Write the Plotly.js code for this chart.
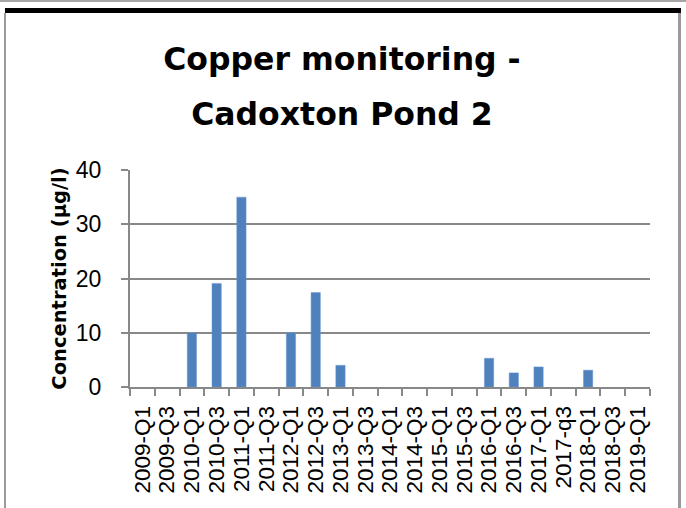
<!DOCTYPE html>
<html>
<head>
<meta charset="utf-8">
<script src="https://cdn.plot.ly/plotly-3.0.1.min.js"></script>
<style>
  html, body { margin: 0; padding: 0; background: #ffffff; }
  #wrap { position: relative; width: 686px; height: 508px; overflow: hidden; }
  #chart { position: absolute; left: 0; top: 0; width: 686px; height: 508px; }
  .frame { position: absolute; pointer-events: none; }
</style>
</head>
<body>
<div id="wrap">
  <div id="chart"></div>
  <div class="frame" style="left:0;top:0;width:686px;height:2px;background:#a6a6a6;"></div>
  <div class="frame" style="left:5px;top:8px;width:676px;height:5px;background:#000000;"></div>
  <div class="frame" style="left:4px;top:13px;width:2px;height:495px;background:#9a9a9a;"></div>
  <div class="frame" style="left:678px;top:13px;width:3px;height:495px;background:#9a9a9a;"></div>
</div>
<script>
// Data
var categories = ["2009-Q1","2009-Q3","2010-Q1","2010-Q3","2011-Q1","2011-Q3","2012-Q1","2012-Q3",
                  "2013-Q1","2013-Q3","2014-Q1","2014-Q3","2015-Q1","2015-Q3","2016-Q1","2016-Q3",
                  "2017-Q1","2017-q3","2018-Q1","2018-Q3","2019-Q1"];
var copperValues = [null, null, 10, 19.1, 35, null, 10, 17.4,
                    4, null, null, null, null, null, 5.3, 2.6,
                    3.7, null, 3.1, null, null];
var titleLine1 = "Copper monitoring -";
var titleLine2 = "Cadoxton Pond 2";
var yAxisTitle = "Concentration (µg/l)";
var yTickValues = [0, 10, 20, 30, 40];

var gridGrey = "#888888";
var titleFont = "DejaVu Sans, Open Sans, sans-serif";
var tickFont = "Liberation Sans, Arial, sans-serif";

var trace = {
  type: "bar",
  x: categories,
  y: copperValues,
  marker: { color: "#4f81bd", line: { color: "#6f9bd0", width: 0.5 } },
  hoverinfo: "x+y"
};

var layout = {
  width: 686,
  height: 508,
  paper_bgcolor: "rgba(0,0,0,0)",
  plot_bgcolor: "#ffffff",
  margin: { l: 130, r: 36, t: 170, b: 121, pad: 0 },
  showlegend: false,
  bargap: 0.624,
  title: {
    text: "<span style='font-size:31.5px'><b>" + titleLine1 + "</b></span><br><span style='font-size:31.5px'><b>" + titleLine2 + "</b></span>",
    font: { family: titleFont, size: 42.3, color: "#000000" },
    x: 0.4985, xanchor: "center", xref: "container",
    y: 1 - 70 / 508, yanchor: "top", yref: "container"
  },
  xaxis: {
    type: "category",
    tickmode: "array",
    tickvals: categories,
    ticktext: categories,
    tickangle: -90,
    tickson: "boundaries",
    ticks: "outside",
    ticklen: 7,
    tickwidth: 2,
    tickcolor: gridGrey,
    showline: true,
    linecolor: gridGrey,
    linewidth: 2,
    showgrid: false,
    tickfont: { family: tickFont, size: 22.5, color: "#000000" },
    ticklabelstandoff: 8,
    automargin: false,
    fixedrange: true
  },
  yaxis: {
    range: [0, 40],
    tickvals: yTickValues,
    ticks: "outside",
    ticklen: 7,
    tickwidth: 2,
    tickcolor: gridGrey,
    showline: true,
    linecolor: gridGrey,
    linewidth: 2,
    showgrid: true,
    gridcolor: gridGrey,
    gridwidth: 2,
    zeroline: false,
    tickfont: { family: tickFont, size: 23, color: "#000000" },
    ticklabelstandoff: 15,
    automargin: false,
    fixedrange: true,
    title: {
      text: "<b>" + yAxisTitle + "</b>",
      font: { family: titleFont, size: 19.5, color: "#000000" },
      standoff: 4
    }
  }
};

Plotly.newPlot("chart", [trace], layout, { displayModeBar: false, staticPlot: true });
</script>
</body>
</html>
